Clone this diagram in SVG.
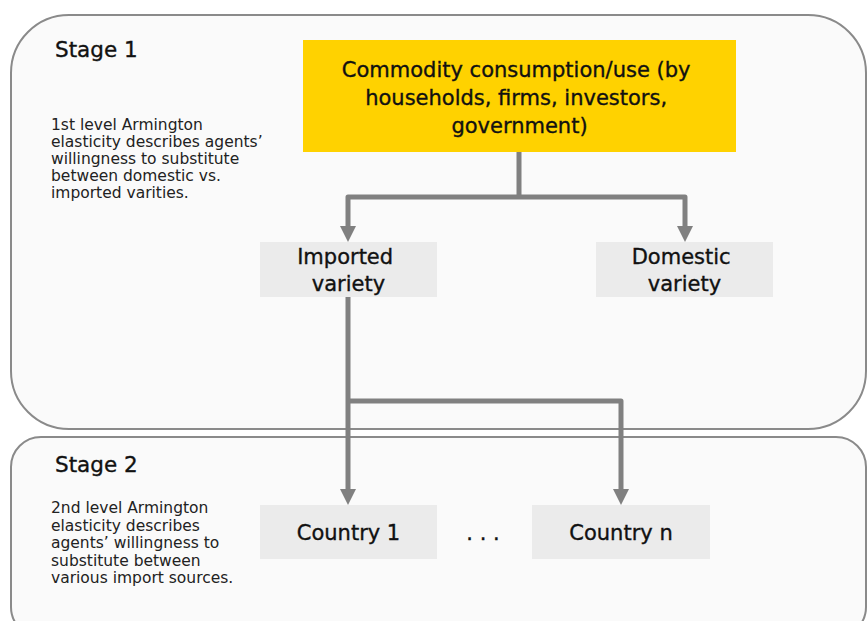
<svg xmlns="http://www.w3.org/2000/svg" width="867" height="621" viewBox="0 0 867 621">
  <defs>
    <!-- arrowhead: base sits on the line end, tip points along the path -->
    <marker id="arrow" viewBox="0 0 16 16" markerWidth="16" markerHeight="16" refX="0" refY="8" orient="auto" markerUnits="userSpaceOnUse">
      <path d="M0,0 L16,8 L0,16 Z" fill="#808080"/>
    </marker>
    <style>
      .stage { fill: #fafafa; stroke: #8a8a8a; stroke-width: 2; }
      .title { font-family: "DejaVu Sans", "Liberation Sans", sans-serif; font-size: 21.5px; fill: #111; stroke: #111; stroke-width: 0.35; }
      .note { font-family: "DejaVu Sans", "Liberation Sans", sans-serif; font-size: 15.5px; fill: #222; }
      .node { fill: #ebebeb; }
      .main { fill: #ffd200; }
      .label { font-family: "DejaVu Sans", "Liberation Sans", sans-serif; font-size: 21px; fill: #111; stroke: #111; stroke-width: 0.35; text-anchor: middle; }
      .conn { fill: none; stroke: #808080; stroke-width: 5; stroke-linejoin: round; }
    </style>
  </defs>
  <rect width="867" height="621" fill="#ffffff"/>

  <!-- stage panels -->
  <g id="stage1">
    <rect class="stage" x="11" y="15" width="855" height="414" rx="58" ry="58"/>
    <text class="title" x="55" y="57">Stage 1</text>
    <text class="note">
      <tspan x="51" y="130">1st level Armington</tspan>
      <tspan x="51" y="147">elasticity describes agents’</tspan>
      <tspan x="51" y="164">willingness to substitute</tspan>
      <tspan x="51" y="181">between domestic vs.</tspan>
      <tspan x="51" y="198">imported varities.</tspan>
    </text>
  </g>
  <g id="stage2">
    <rect class="stage" x="11" y="437" width="855" height="200" rx="30" ry="30"/>
    <text class="title" x="55" y="472">Stage 2</text>
    <text class="note">
      <tspan x="51" y="513">2nd level Armington</tspan>
      <tspan x="51" y="531">elasticity describes</tspan>
      <tspan x="51" y="548">agents’ willingness to</tspan>
      <tspan x="51" y="566">substitute between</tspan>
      <tspan x="51" y="583">various import sources.</tspan>
    </text>
  </g>

  <!-- connectors -->
  <g id="connectors">
    <path class="conn" d="M519,152 V197"/>
    <path class="conn" d="M519,197 H348 V226" marker-end="url(#arrow)"/>
    <path class="conn" d="M519,197 H685 V226" marker-end="url(#arrow)"/>
    <path class="conn" d="M348,297 V489" marker-end="url(#arrow)"/>
    <path class="conn" d="M348,401 H621 V489" marker-end="url(#arrow)"/>
  </g>

  <!-- nodes -->
  <g id="commodity">
    <rect class="main" x="303" y="40" width="433" height="112"/>
    <text class="label">
      <tspan x="519.5" y="77">Commodity consumption/use (by</tspan>
      <tspan x="519.5" y="105">households, firms, investors,</tspan>
      <tspan x="519.5" y="133">government)</tspan>
    </text>
  </g>
  <g id="imported">
    <rect class="node" x="260" y="242" width="177" height="55"/>
    <text class="label">
      <tspan x="348.5" y="264">Imported</tspan>
      <tspan x="348.5" y="291">variety</tspan>
    </text>
  </g>
  <g id="domestic">
    <rect class="node" x="596" y="242" width="177" height="55"/>
    <text class="label">
      <tspan x="684.5" y="264">Domestic</tspan>
      <tspan x="684.5" y="291">variety</tspan>
    </text>
  </g>
  <g id="country1">
    <rect class="node" x="260" y="505" width="177" height="54"/>
    <text class="label" x="348.5" y="540">Country 1</text>
  </g>
  <g id="ellipsis">
    <text class="label" x="483" y="540" font-size="18" stroke-width="0">. . .</text>
  </g>
  <g id="countryn">
    <rect class="node" x="532" y="505" width="178" height="54"/>
    <text class="label" x="621" y="540">Country n</text>
  </g>
</svg>
